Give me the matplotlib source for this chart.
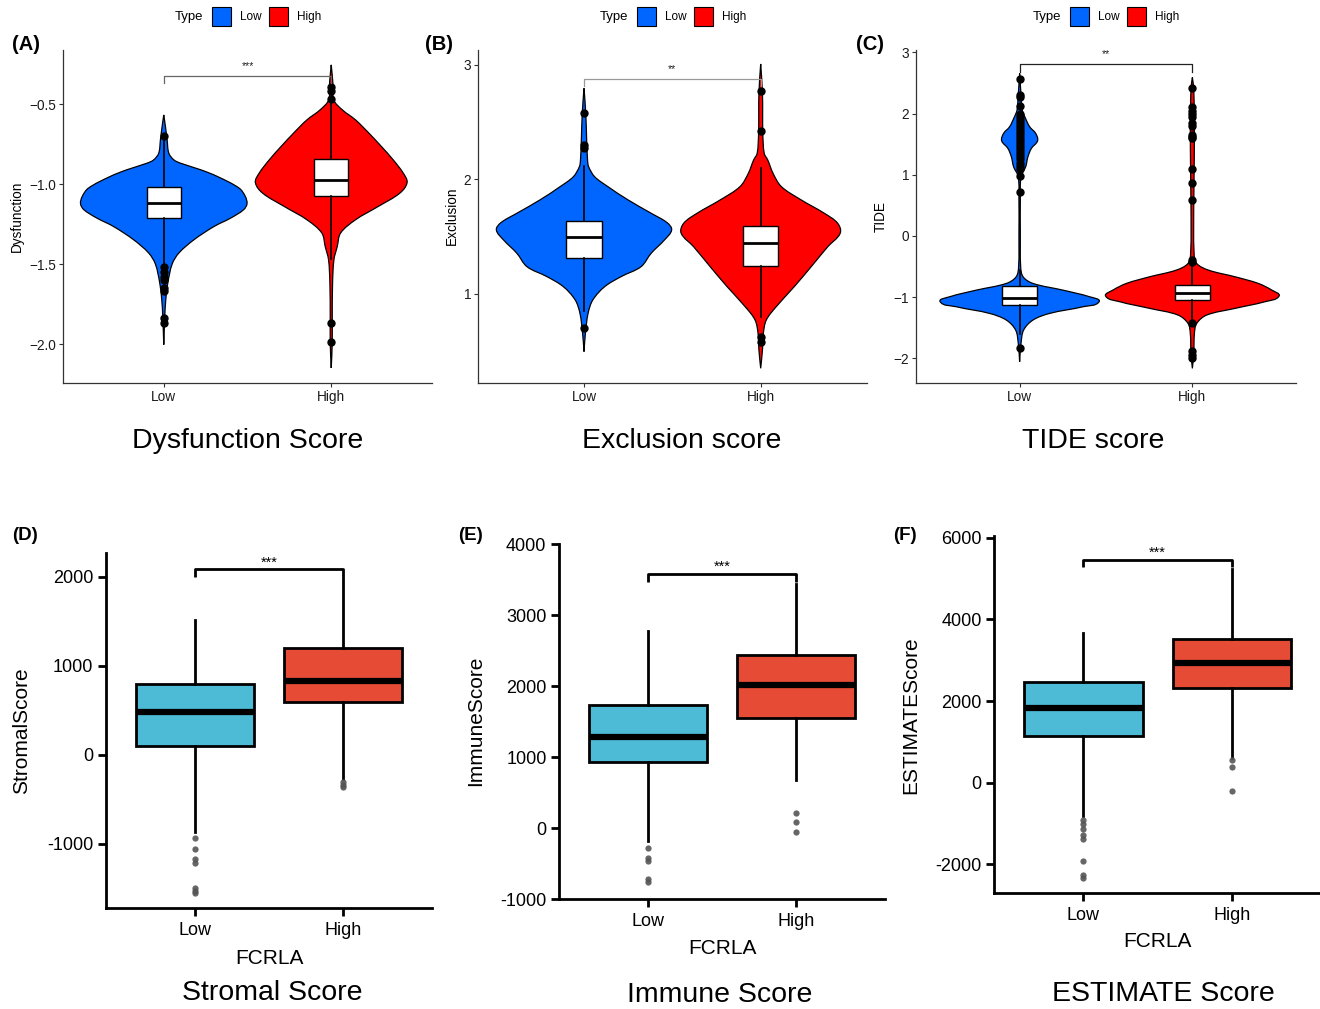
import matplotlib
matplotlib.use("Agg")
import numpy as np
import matplotlib.pyplot as plt
from matplotlib.patches import Rectangle, PathPatch
from matplotlib.path import Path

plt.rcParams['font.family'] = ['Liberation Sans', 'DejaVu Sans']

W, H = 1320, 1009
groups = ["Low", "High"]
violin_colors = ["#0066FF", "#FF0000"]
box_colors = ["#4DBBD5", "#E64B35"]

# ---- top row: violin outlines (value, half width) ----
dys_low_v = [-0.567, -0.640, -0.723, -0.806, -0.848, -0.869, -0.910, -0.952, -1.025, -1.077, -1.123,
             -1.160, -1.212, -1.265, -1.348, -1.431, -1.500, -1.619, -1.723, -1.827, -2.004]
dys_low_w = [0.0, 0.010, 0.020, 0.030, 0.060, 0.100, 0.220, 0.320, 0.450, 0.487, 0.497,
             0.477, 0.400, 0.300, 0.180, 0.090, 0.050, 0.024, 0.012, 0.006, 0.0]
dys_high_v = [-0.254, -0.369, -0.473, -0.535, -0.598, -0.681, -0.765, -0.848, -0.931, -0.990,
              -1.056, -1.140, -1.223, -1.306, -1.390, -1.473, -1.619, -1.827, -1.994, -2.150]
dys_high_w = [0.0, 0.010, 0.015, 0.066, 0.145, 0.225, 0.300, 0.370, 0.430, 0.453,
              0.410, 0.280, 0.145, 0.056, 0.036, 0.016, 0.008, 0.006, 0.006, 0.0]

exc_low_v = [2.796, 2.577, 2.344, 2.169, 2.111, 2.023, 1.936, 1.819, 1.703, 1.621,
             1.557, 1.469, 1.353, 1.236, 1.149, 1.061, 0.945, 0.828, 0.653, 0.493]
exc_low_w = [0.0, 0.010, 0.015, 0.020, 0.026, 0.060, 0.135, 0.250, 0.380, 0.470,
             0.496, 0.455, 0.380, 0.323, 0.210, 0.117, 0.050, 0.023, 0.008, 0.0]
exc_high_v = [3.009, 2.752, 2.402, 2.227, 2.169, 2.052, 1.936, 1.819, 1.703, 1.615,
              1.528, 1.411, 1.236, 1.061, 0.886, 0.770, 0.653, 0.507, 0.347]
exc_high_w = [0.0, 0.010, 0.012, 0.020, 0.040, 0.070, 0.117, 0.230, 0.360, 0.436,
              0.450, 0.380, 0.286, 0.190, 0.088, 0.032, 0.015, 0.010, 0.0]

tide_low_v = [2.657, 2.220, 2.057, 1.948, 1.785, 1.676, 1.556, 1.431, 1.294, 1.131, 0.967, 0.586, 0.041,
              -0.504, -0.668, -0.777, -0.886, -0.995, -1.076, -1.158, -1.267, -1.376, -1.540, -1.757, -2.057]
tide_low_w = [0.0, 0.010, 0.015, 0.030, 0.058, 0.093, 0.104, 0.068, 0.048, 0.035, 0.008, 0.004, 0.004,
              0.006, 0.020, 0.077, 0.250, 0.405, 0.460, 0.367, 0.174, 0.077, 0.023, 0.008, 0.0]
tide_high_v = [2.591, 2.400, 1.600, 0.500, -0.286, -0.450, -0.559, -0.668, -0.777, -0.886,
               -0.984, -1.076, -1.185, -1.294, -1.431, -1.594, -1.921, -2.166]
tide_high_w = [0.0, 0.008, 0.012, 0.008, 0.010, 0.025, 0.093, 0.247, 0.382, 0.460,
               0.502, 0.420, 0.247, 0.083, 0.025, 0.012, 0.008, 0.0]

# box stats: whisker low, q1, median, q3, whisker high
dys_low_box = [-1.50, -1.2125, -1.121, -1.015, -0.73]
dys_high_box = [-1.47, -1.073, -0.973, -0.842, -0.47]
exc_low_box = [0.85, 1.309, 1.499, 1.638, 2.12]
exc_high_box = [0.80, 1.242, 1.440, 1.595, 2.10]
tide_low_box = [-1.60, -1.131, -1.022, -0.820, -0.55]
tide_high_box = [-1.40, -1.049, -0.940, -0.804, -0.45]

dys_low_out = [-0.70, -1.52, -1.55, -1.58, -1.60, -1.65, -1.67, -1.84, -1.87]
dys_high_out = [-0.39, -0.42, -0.47, -1.87, -1.99]
exc_low_out = [2.58, 2.30, 2.27, 0.70]
exc_high_out = [2.77, 2.42, 0.62, 0.58]
tide_low_out = [2.57, 2.30, 2.27, 2.13, 2.00, 1.95, 1.90, 1.85, 1.80, 1.75, 1.70, 1.65, 1.60,
                1.55, 1.50, 1.45, 1.40, 1.35, 1.30, 1.25, 1.20, 1.15, 1.10, 0.98, 0.71, -1.84]
tide_high_out = [2.42, 2.10, 2.05, 2.00, 1.95, 1.85, 1.80, 1.65, 1.62, 1.60, 1.10, 0.87, 0.59,
                 -0.40, -0.42, -1.42, -1.88, -1.95, -2.00]

# ---- bottom row: ESTIMATE boxplots ----
stromal_low_box = [-865, 101, 483, 794, 1513]
stromal_high_box = [-265, 596, 831, 1195, 1982]
stromal_low_out = [-928, -1052, -1164, -1209, -1494, -1528, -1551]
stromal_high_out = [-306, -333, -360]
immune_low_box = [-178, 937, 1288, 1732, 2785]
immune_high_box = [678, 1559, 2022, 2440, 3441]
immune_low_out = [-271, -412, -459, -716, -754]
immune_high_out = [220, 89, -47]
estimate_low_box = [-818, 1141, 1837, 2474, 3657]
estimate_high_box = [612, 2327, 2939, 3527, 5224]
estimate_low_out = [-923, -1021, -1144, -1291, -1389, -1920, -2270, -2327]
estimate_high_out = [554, 382, -213]


def fx(x):
    return x / W


def fy(y):
    return 1 - y / H


def add_ax(l, t, r, b):
    return fig.add_axes([fx(l), fy(b), (r - l) / W, (b - t) / H])


def stats(b, out):
    return dict(whislo=b[0], q1=b[1], med=b[2], q3=b[3], whishi=b[4], fliers=out)


def unit(v):
    return v / (np.hypot(*v) + 1e-9)


def violin(ax, pos, vals, half, color):
    # outline: down the left side, back up the right side (tips not repeated)
    xs = [pos - w for w in half] + [pos + w for w in half[-2:0:-1]]
    ys = list(vals) + list(vals[-2:0:-1])
    sharp = [w == 0 for w in half] + [False] * (len(half) - 2)
    # smooth closed outline drawn as bezier curves, built in pixel space
    P = ax.transData.transform(np.column_stack([xs, ys]))
    n = len(P)
    verts = [P[0]]
    codes = [Path.MOVETO]
    for i in range(n):
        j = (i + 1) % n
        p0, p1, p2, p3 = P[i - 1], P[i], P[j], P[(i + 2) % n]
        seg = np.hypot(*(p2 - p1))
        t1 = unit(p2 - p1) if sharp[i] else unit(p2 - p0)
        t2 = unit(p2 - p1) if sharp[j] else unit(p3 - p1)
        verts += [p1 + t1 * seg / 3, p2 - t2 * seg / 3, p2]
        codes += [Path.CURVE4] * 3
    verts = ax.transData.inverted().transform(np.array(verts))
    ax.add_patch(PathPatch(Path(verts, codes), facecolor=color, edgecolor="black", lw=0.9, zorder=1))


def top_panel(box, letter, letter_x, vdata, bdata, ylim, ticks, tlabels, ylab, ylab_x, sig, sig_col,
              title, title_x, leg_x):
    l, t, r, b = box
    ax = add_ax(l, t, r, b)
    ax.set_xlim(0.4, 2.6)
    ax.set_ylim(*ylim)
    for i in range(2):
        violin(ax, i + 1, vdata[i][0], vdata[i][1], violin_colors[i])
    bp = ax.bxp([stats(*bdata[0]), stats(*bdata[1])], positions=[1, 2], widths=0.2,
                patch_artist=True, showcaps=False,
                boxprops=dict(facecolor="white", edgecolor="black", lw=1.0),
                medianprops=dict(color="black", lw=2.0),
                whiskerprops=dict(color="black", lw=1.2),
                flierprops=dict(marker="o", markersize=5, markerfacecolor="black",
                                markeredgecolor="black"))
    for art in bp["boxes"] + bp["medians"] + bp["whiskers"] + bp["fliers"]:
        art.set_zorder(3)
    ax.set_xlim(0.4, 2.6)
    ax.set_ylim(*ylim)
    ax.set_xticks([1, 2])
    ax.set_xticklabels(groups)
    ax.set_yticks(ticks)
    ax.set_yticklabels(tlabels)
    for s in ["top", "right"]:
        ax.spines[s].set_visible(False)
    for s in ["left", "bottom"]:
        ax.spines[s].set_color("#333333")
        ax.spines[s].set_linewidth(0.9)
    ax.tick_params(labelsize=9.8, length=3, width=0.8, color="#333333", labelcolor="#1a1a1a", pad=2)
    # significance bracket
    ys, ytip, ytxt, lab = sig
    ax.plot([1, 1, 2, 2], [ytip, ys, ys, ytip], color=sig_col, lw=0.9, zorder=4)
    ax.text(1.5, ytxt, lab, ha="center", va="center", fontsize=7.5, color="#222222")
    fig.text(fx(ylab_x), fy(216), ylab, rotation=90, ha="center", va="center", fontsize=9.8)
    fig.text(fx(letter_x), fy(45), letter, fontsize=14.5, fontweight="bold", ha="left", va="center")
    fig.text(fx(title_x), fy(441), title, fontsize=20.5, ha="center", va="center")
    # legend
    fig.text(fx(leg_x), fy(17), "Type", fontsize=9.5, ha="left", va="center")
    for k, off in enumerate([37, 94]):
        fig.add_artist(Rectangle((fx(leg_x + off), fy(26)), 19 / W, 19 / H,
                                 transform=fig.transFigure, facecolor=violin_colors[k],
                                 edgecolor="black", lw=0.8))
        fig.text(fx(leg_x + off + 28), fy(17), groups[k], fontsize=8.5, ha="left", va="center")
    return ax


def bottom_panel(box, letter, letter_x, bdata, ylim, ticks, ylab, ylab_xy, sig, xlab_xy, title, title_xy):
    l, t, r, b = box
    ax = add_ax(l, t, r, b)
    bp = ax.bxp([stats(*bdata[0]), stats(*bdata[1])], positions=[1, 2], widths=0.8,
                patch_artist=True, showcaps=False,
                boxprops=dict(edgecolor="black", lw=2.0),
                medianprops=dict(color="black", lw=4.5),
                whiskerprops=dict(color="black", lw=2.0),
                flierprops=dict(marker="o", markersize=4.5, markerfacecolor="#555555",
                                markeredgecolor="none", alpha=0.9))
    for patch, c in zip(bp["boxes"], box_colors):
        patch.set_facecolor(c)
    ax.set_xlim(0.4, 2.6)
    ax.set_ylim(*ylim)
    ax.set_xticks([1, 2])
    ax.set_xticklabels(groups)
    ax.set_yticks(ticks)
    ax.set_yticklabels([str(v) for v in ticks])
    for s in ["top", "right"]:
        ax.spines[s].set_visible(False)
    for s in ["left", "bottom"]:
        ax.spines[s].set_linewidth(2.0)
    ax.tick_params(labelsize=13, length=6, width=2, color="black", labelcolor="black")
    ax.tick_params(axis="x", pad=4)
    ax.tick_params(axis="y", pad=3)
    ys, ytip, ytxt = sig
    ax.plot([1, 1, 2, 2], [ytip, ys, ys, ytip], color="black", lw=2.0, solid_capstyle="butt")
    ax.text(1.5, ytxt, "***", ha="center", va="center", fontsize=10.5)
    fig.text(fx(ylab_xy[0]), fy(ylab_xy[1]), ylab, rotation=90, ha="center", va="center", fontsize=15)
    fig.text(fx(xlab_xy[0]), fy(xlab_xy[1]), "FCRLA", ha="center", va="center", fontsize=15)
    fig.text(fx(letter_x), fy(535), letter, fontsize=13.5, fontweight="bold", ha="left", va="center")
    fig.text(fx(title_xy[0]), fy(title_xy[1]), title, fontsize=20.5, ha="center", va="center")
    return ax


fig = plt.figure(figsize=(W / 100, H / 100), dpi=100)

top_panel((63.3, 50, 431.7, 382.7), "(A)", 12,
          [(dys_low_v, dys_low_w), (dys_high_v, dys_high_w)],
          [(dys_low_box, dys_low_out), (dys_high_box, dys_high_out)],
          (-2.242, -0.161), [-2.0, -1.5, -1.0, -0.5], ["\u22122.0", "\u22121.5", "\u22121.0", "\u22120.5"],
          "Dysfunction", 17, (-0.323, -0.369, -0.262, "***"), "#666666",
          "Dysfunction Score", 247.5, 175)

top_panel((478, 50, 866.7, 382.7), "(B)", 425,
          [(exc_low_v, exc_low_w), (exc_high_v, exc_high_w)],
          [(exc_low_box, exc_low_out), (exc_high_box, exc_high_out)],
          (0.221, 3.131), [1, 2, 3], ["1", "2", "3"],
          "Exclusion", 451.7, (2.878, 2.816, 2.962, "**"), "#999999",
          "Exclusion score", 681.5, 600)

top_panel((916, 50, 1296, 382.7), "(C)", 856,
          [(tide_low_v, tide_low_w), (tide_high_v, tide_high_w)],
          [(tide_low_box, tide_low_out), (tide_high_box, tide_high_out)],
          (-2.40, 3.04), [-2, -1, 0, 1, 2, 3], ["\u22122", "\u22121", "0", "1", "2", "3"],
          "TIDE", 880.7, (2.81, 2.68, 2.975, "**"), "#222222",
          "TIDE score", 1093, 1033)

bottom_panel((106, 553.3, 432, 908.3), "(D)", 12,
             [(stromal_low_box, stromal_low_out), (stromal_high_box, stromal_high_out)],
             (-1722, 2263), [-1000, 0, 1000, 2000], "StromalScore", (22, 731),
             (2083, 1993, 2160), (269, 958), "Stromal Score", (272.5, 993))

bottom_panel((559, 544, 885, 899.3), "(E)", 458,
             [(immune_low_box, immune_low_out), (immune_high_box, immune_high_out)],
             (-1000, 4005), [-1000, 0, 1000, 2000, 3000, 4000], "ImmuneScore", (476, 721),
             (3577, 3473, 3690), (722.5, 948), "Immune Score", (719.5, 995))

bottom_panel((994.3, 536, 1321, 892.7), "(F)", 893,
             [(estimate_low_box, estimate_low_out), (estimate_high_box, estimate_high_out)],
             (-2696, 6042), [-2000, 0, 2000, 4000, 6000], "ESTIMATEScore", (911, 715),
             (5444, 5281, 5640), (1157.5, 941.7), "ESTIMATE Score", (1163, 994))

fig.savefig("out.png", dpi=100)
